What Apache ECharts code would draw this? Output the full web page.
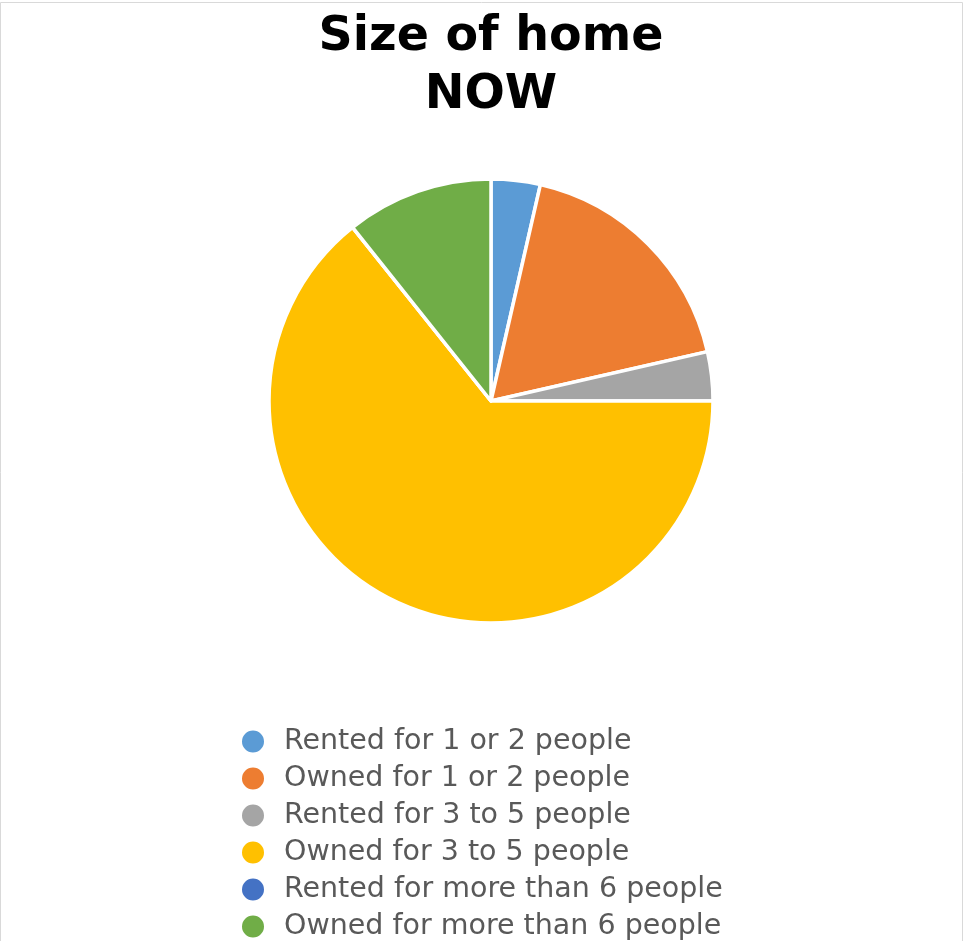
<!DOCTYPE html>
<html>
<head>
<meta charset="utf-8">
<script src="https://cdn.jsdelivr.net/npm/echarts@6/dist/echarts.min.js"></script>
<style>
  html, body { margin: 0; padding: 0; background: #fff; }
  #main { width: 964px; height: 941px; }
</style>
</head>
<body>
<div id="main"></div>
<script>
// categories and counts
const categories = [
  "Rented for 1 or 2 people",
  "Owned for 1 or 2 people",
  "Rented for 3 to 5 people",
  "Owned for 3 to 5 people",
  "Rented for more than 6 people",
  "Owned for more than 6 people"
];
const counts = [1, 5, 1, 18, 0, 3];
const colors = ["#5b9bd5", "#ed7d31", "#a5a5a5", "#ffc000", "#4472c4", "#70ad47"];

const myChart = echarts.init(document.getElementById("main"));

const option = {
  animation: false,
  color: colors,
  title: {
    text: "Size of home\nNOW",
    left: 486,
    textAlign: "center",
    top: 4,
    textStyle: {
      fontFamily: "'DejaVu Sans', sans-serif",
      fontWeight: "bold",
      fontSize: 47.5,
      lineHeight: 58,
      color: "#000"
    }
  },
  graphic: [
    {
      type: "rect",
      shape: { x: 0.5, y: 2.5, width: 962, height: 945 },
      style: { fill: "none", stroke: "#d9d9d9", lineWidth: 1 },
      silent: true
    }
  ],
  legend: {
    orient: "vertical",
    left: 240,
    top: 727,
    padding: 0,
    icon: "circle",
    itemWidth: 24,
    itemHeight: 24,
    itemGap: 8,
    textStyle: {
      fontFamily: "'DejaVu Sans', sans-serif",
      fontSize: 28.5,
      lineHeight: 29,
      color: "#595959",
      padding: [0, 0, 0, 14]
    },
    data: categories
  },
  series: [
    {
      type: "pie",
      center: [491, 401],
      radius: 222,
      startAngle: 90,
      clockwise: true,
      label: { show: false },
      labelLine: { show: false },
      itemStyle: {
        borderColor: "#fff",
        borderWidth: 3.5
      },
      data: categories.map((name, i) => ({ name: name, value: counts[i] }))
    }
  ]
};

option && myChart.setOption(option);
</script>
</body>
</html>
